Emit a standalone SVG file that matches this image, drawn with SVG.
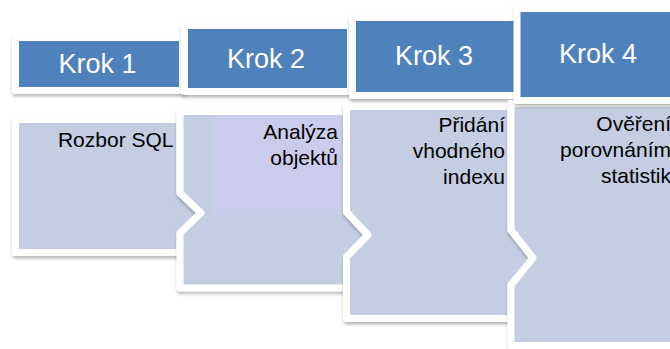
<svg xmlns="http://www.w3.org/2000/svg" width="670" height="349" viewBox="0 0 670 349">
  <defs>
    <filter id="shade" x="-10%" y="-10%" width="130%" height="130%">
      <feDropShadow dx="0.5" dy="2.5" stdDeviation="1.5" flood-color="#000" flood-opacity="0.28"/>
    </filter>
  </defs>
  <style>
    .head { fill: #4F81BD; stroke: #FFFFFF; stroke-width: 7; stroke-linejoin: round; filter: url(#shade); }
    .body { fill: #C4CDE1; stroke: #FFFFFF; stroke-width: 7; stroke-linejoin: round; filter: url(#shade); }
    .note { fill: #CBCCEB; }
    .title { font-family: "Liberation Sans", Arial, sans-serif; font-size: 27px; fill: #FFFFFF; text-anchor: middle; }
    .txt { font-family: "Liberation Sans", Arial, sans-serif; font-size: 21px; fill: #000000; text-anchor: end; }
  </style>
  <rect width="670" height="349" fill="#FFFFFF"/>

  <!-- step 1 -->
  <g id="step1">
    <path class="body" d="M15.5 119.5 H180 V193 L201 213 L180 233 V252.5 H15.5 Z"/>
    <rect class="head" x="15.5" y="37.5" width="167" height="53"/>
    <text class="title" x="97.5" y="73">Krok 1</text>
    <text class="txt" x="173.5" y="147">Rozbor SQL</text>
  </g>

  <!-- step 2 -->
  <g id="step2">
    <path class="body" d="M180 111.5 H346.5 V212 L368 235 L346.5 257 V288 H180 V233 L201 213 L180 193 Z"/>
    <rect class="note" x="213" y="115" width="126" height="100"/>
    <rect class="head" x="184.5" y="25.5" width="166" height="66"/>
    <text class="title" x="266" y="68">Krok 2</text>
    <text class="txt" x="338" y="139">Analýza</text>
    <text class="txt" x="338" y="165">objektů</text>
  </g>

  <!-- step 3 -->
  <g id="step3">
    <path class="body" d="M346.5 106.5 H511 V230 L533 258 L511 285 V318.5 H346.5 V257 L368 235 L346.5 212 Z"/>
    <rect class="head" x="352.5" y="17.5" width="165" height="78"/>
    <text class="title" x="434" y="65">Krok 3</text>
    <text class="txt" x="505" y="132">Přidání</text>
    <text class="txt" x="505" y="158">vhodného</text>
    <text class="txt" x="505" y="184">indexu</text>
  </g>

  <!-- step 4 -->
  <g id="step4">
    <path class="body" d="M511 103.5 H700 V345.5 H511 V285 L533 258 L511 230 Z"/>
    <rect class="head" x="517" y="8.5" width="170" height="92"/>
    <text class="title" x="598" y="63">Krok 4</text>
    <text class="txt" x="671" y="131">Ověření</text>
    <text class="txt" x="671" y="157">porovnáním</text>
    <text class="txt" x="671" y="183">statistik</text>
  </g>

  <g id="connectors"/>
</svg>
